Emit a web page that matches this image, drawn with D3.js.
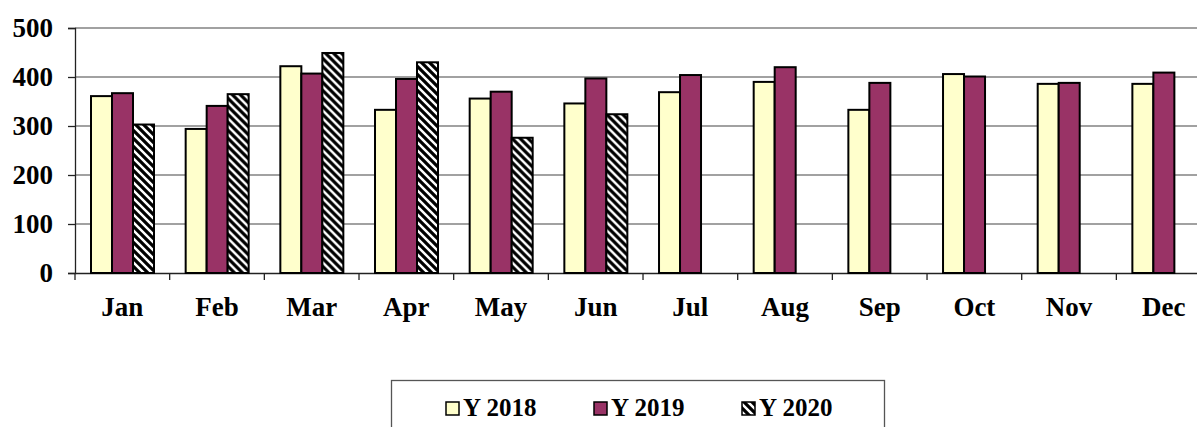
<!DOCTYPE html>
<html>
<head>
<meta charset="utf-8">
<script src="https://cdn.jsdelivr.net/npm/d3@7"></script>
<style>
  body { margin: 0; background: #fff; }
  svg { display: block; }
</style>
</head>
<body>
<svg id="chart"></svg>
<script>
// data
const months = ['Jan', 'Feb', 'Mar', 'Apr', 'May', 'Jun', 'Jul', 'Aug', 'Sep', 'Oct', 'Nov', 'Dec'];
const seriesNames = ['Y 2018', 'Y 2019', 'Y 2020'];
const y2018 = [361, 294, 422, 333, 356, 346, 369, 390, 333, 406, 386, 386];
const y2019 = [367, 341, 407, 396, 370, 397, 404, 420, 388, 401, 388, 409];
const y2020 = [303, 365, 449, 430, 276, 324, null, null, null, null, null, null];
const yTicks = [0, 100, 200, 300, 400, 500];

const width = 1197, height = 427;
const margin = {top: 28, left: 75, bottom: 273};
const bandW = 94.67;
const font = '"Liberation Serif", "Times New Roman", serif';

const svg = d3.select('#chart')
    .attr('width', width)
    .attr('height', height);

// hatch pattern for 2020
const defs = svg.append('defs');
const pat = defs.append('pattern')
    .attr('id', 'hatch')
    .attr('patternUnits', 'userSpaceOnUse')
    .attr('width', 8)
    .attr('height', 8);
pat.append('rect').attr('width', 8).attr('height', 8).attr('fill', '#fff');
pat.append('path')
    .attr('d', 'M-2,-2 L10,10 M-2,6 L2,10 M6,-2 L10,2')
    .attr('stroke', '#000')
    .attr('stroke-width', 3.2);

const colors = ['#ffffcc', '#993366', 'url(#hatch)'];

// scales
const x = d3.scaleBand()
    .domain(months)
    .range([margin.left, margin.left + bandW * months.length]);
const inner = d3.scaleBand()
    .domain(seriesNames)
    .range([16, 16 + 63]);
const y = d3.scaleLinear()
    .domain([0, 500])
    .range([margin.bottom, margin.top]);

// gridlines
svg.append('g')
  .selectAll('line')
  .data(yTicks.filter(d => d > 0))
  .join('line')
    .attr('x1', margin.left)
    .attr('x2', x.range()[1])
    .attr('y1', d => y(d))
    .attr('y2', d => y(d))
    .attr('stroke', '#444')
    .attr('stroke-width', 1.2);

// y axis
const yAxis = svg.append('g')
    .attr('transform', `translate(${margin.left},0)`)
    .call(d3.axisLeft(y).tickValues(yTicks).tickSize(7).tickPadding(15).tickFormat(d3.format('d')));
yAxis.select('.domain').attr('stroke', '#222').attr('stroke-width', 1.3);
yAxis.selectAll('.tick line').attr('stroke', '#222').attr('stroke-width', 1.3);
yAxis.selectAll('text')
    .attr('fill', '#000')
    .attr('font-family', font)
    .attr('font-weight', 'bold')
    .attr('font-size', '27px');

// x axis
const xAxis = svg.append('g')
    .attr('transform', `translate(0,${margin.bottom})`)
    .call(d3.axisBottom(x).tickSize(0).tickPadding(24));
xAxis.select('.domain').attr('stroke', '#222').attr('stroke-width', 1.3);
xAxis.selectAll('text')
    .attr('fill', '#000')
    .attr('font-family', font)
    .attr('font-weight', 'bold')
    .attr('font-size', '27px');
// category separator ticks
xAxis.append('g')
  .selectAll('line')
  .data(months)
  .join('line')
    .attr('x1', d => x(d))
    .attr('x2', d => x(d))
    .attr('y1', 0)
    .attr('y2', 7)
    .attr('stroke', '#222')
    .attr('stroke-width', 1.3);

// bars
const rows = months.map((m, i) => ({
  month: m,
  values: [y2018[i], y2019[i], y2020[i]].map((v, j) => ({key: seriesNames[j], value: v, idx: j}))
}));

svg.append('g')
  .selectAll('g')
  .data(rows)
  .join('g')
    .attr('transform', d => `translate(${x(d.month)},0)`)
  .selectAll('rect')
  .data(d => d.values.filter(v => v.value != null))
  .join('rect')
    .attr('x', d => inner(d.key))
    .attr('width', inner.bandwidth())
    .attr('y', d => y(d.value))
    .attr('height', d => y(0) - y(d.value))
    .attr('fill', d => colors[d.idx])
    .attr('stroke', '#000')
    .attr('stroke-width', 2);

// legend
const legend = svg.append('g');
legend.append('rect')
    .attr('x', 391.5)
    .attr('y', 380.5)
    .attr('width', 493)
    .attr('height', 60)
    .attr('fill', '#fff')
    .attr('stroke', '#555')
    .attr('stroke-width', 1.3);

const item = legend.selectAll('.item')
  .data(seriesNames)
  .join('g')
    .attr('class', 'item')
    .attr('transform', (d, i) => `translate(${446 + i * 148},0)`);
item.append('rect')
    .attr('x', 0)
    .attr('y', 402)
    .attr('width', 13)
    .attr('height', 13)
    .attr('fill', (d, i) => colors[i])
    .attr('stroke', '#000')
    .attr('stroke-width', 1.5);
item.append('text')
    .attr('x', 17)
    .attr('y', 416)
    .attr('font-family', font)
    .attr('font-weight', 'bold')
    .attr('font-size', '25px')
    .text(d => d);
</script>
</body>
</html>
